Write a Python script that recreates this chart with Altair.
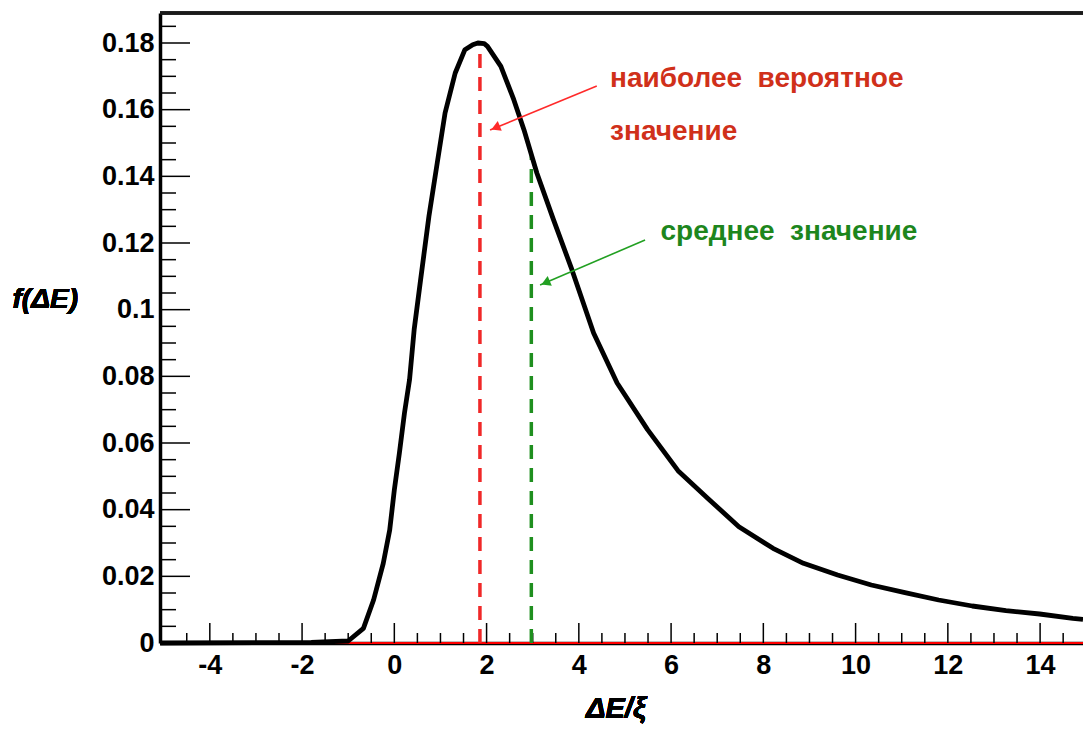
import altair as alt
import pandas as pd

# ---- data ----
curve_x = [-5.08, -1.8, -1.0, -0.67, -0.45, -0.24, -0.10, 0.0, 0.11, 0.22, 0.33, 0.43, 0.57, 0.75,
           0.93, 1.10, 1.32, 1.53, 1.70, 1.81, 1.95, 2.02, 2.31, 2.59, 2.81, 3.09, 3.45, 3.85, 4.32,
           4.83, 5.49, 6.15, 6.81, 7.47, 8.21, 8.87, 9.61, 10.34, 11.07, 11.80, 12.53, 13.26,
           13.99, 14.71, 14.93]
curve_y = [0.0, 0.0002, 0.0006, 0.0044, 0.0129, 0.0239, 0.0339, 0.0459, 0.057, 0.069, 0.079, 0.094,
           0.109, 0.128, 0.144, 0.159, 0.171, 0.178, 0.1795, 0.180, 0.1798, 0.179, 0.173, 0.163,
           0.154, 0.141, 0.127, 0.112, 0.093, 0.078, 0.064, 0.0517, 0.0432, 0.0349, 0.0284,
           0.0239, 0.0204, 0.0174, 0.0151, 0.0129, 0.0111, 0.0097, 0.0087, 0.0074, 0.0071]

mode_x, mode_y = 1.856, 0.180
mean_x, mean_y = 2.97, 0.146

x_major = [-4, -2, 0, 2, 4, 6, 8, 10, 12, 14]
y_major = [0, 0.02, 0.04, 0.06, 0.08, 0.10, 0.12, 0.14, 0.16, 0.18]
x_minor = [v / 2 for v in range(-9, 30) if v % 4 != 0]
y_minor = [round(v * 0.005, 4) for v in range(1, 38) if v % 4 != 0]

NB = "\u00a0"
labels_text = ["наиболее" + NB + NB + "вероятное", "значение", "среднее" + NB + NB + "значение"]
labels_x = [4.677, 4.677, 5.77]
labels_y = [0.1669, 0.1509, 0.1209]
labels_color = ["#d0301a", "#d0301a", "#1d861d"]

arrow_x1 = [4.389, 5.436]
arrow_y1 = [0.1671, 0.1209]
arrow_x2 = [2.076, 3.16]
arrow_y2 = [0.1539, 0.1074]
head_x = [2.195, 3.279]
head_y = [0.1546, 0.1081]
head_angle = [247.6, 246.8]
arrow_color = ["#ff2a2a", "#22a022"]

X_DOMAIN = [-5.08, 14.93]
Y_DOMAIN = [0, 0.189]
W, H = 923, 630
FONT = "Liberation Sans"

xs = alt.Scale(domain=X_DOMAIN, nice=False, zero=False)
ys = alt.Scale(domain=Y_DOMAIN, nice=False, zero=False)

curve_df = pd.DataFrame({"x": curve_x, "y": curve_y})
xmaj_df = pd.DataFrame({"x": x_major})
xmin_df = pd.DataFrame({"x": x_minor})
ymaj_df = pd.DataFrame({"y": y_major})
ymin_df = pd.DataFrame({"y": y_minor})
lab_df = pd.DataFrame({"t": labels_text, "x": labels_x, "y": labels_y, "c": labels_color})
arr_df = pd.DataFrame({"x": arrow_x1, "y": arrow_y1, "x2": arrow_x2, "y2": arrow_y2, "c": arrow_color})
head_df = pd.DataFrame({"x": head_x, "y": head_y, "a": head_angle, "c": arrow_color})
mode_df = pd.DataFrame({"x": [mode_x], "y": [mode_y], "y0": [0.0]})
mean_df = pd.DataFrame({"x": [mean_x], "y": [mean_y], "y0": [0.0]})

x_axis = alt.Axis(values=x_major, labelExpr="datum.value < 0 ? '-' + abs(datum.value) : '' + datum.value",
                  labelFont=FONT, labelFontSize=27, labelFontWeight="bold", labelColor="black",
                  labelPadding=9, ticks=False, tickSize=0, grid=False, title=None,
                  domainColor="black", domainWidth=3.5)
y_axis = alt.Axis(values=y_major, format=".2~f",
                  labelFont=FONT, labelFontSize=27, labelFontWeight="bold", labelColor="black",
                  labelPadding=6, ticks=False, tickSize=0, grid=False, title=None,
                  domainColor="black", domainWidth=3.5)

base = alt.Chart(curve_df).mark_line(color="black", strokeWidth=0).encode(
    x=alt.X("x:Q", scale=xs, axis=x_axis),
    y=alt.Y("y:Q", scale=ys, axis=y_axis),
)

zero_line = alt.Chart(xmaj_df).mark_rule(color="#ff0000", strokeWidth=2).encode(
    x=alt.value(0), x2=alt.value(W), y=alt.value(H))

top_line = alt.Chart(xmaj_df).mark_rule(color="#1a1a1a", strokeWidth=2.5).encode(
    x=alt.value(0), x2=alt.value(W), y=alt.value(0))

xmaj_ticks = alt.Chart(xmaj_df).mark_rule(color="black", strokeWidth=1.5).encode(
    x=alt.X("x:Q", scale=xs), y=alt.value(H), y2=alt.value(H - 20))
xmin_ticks = alt.Chart(xmin_df).mark_rule(color="black", strokeWidth=1.5).encode(
    x=alt.X("x:Q", scale=xs), y=alt.value(H), y2=alt.value(H - 10))
ymaj_ticks = alt.Chart(ymaj_df).mark_rule(color="black", strokeWidth=1.5).encode(
    y=alt.Y("y:Q", scale=ys), x=alt.value(0), x2=alt.value(30))
ymin_ticks = alt.Chart(ymin_df).mark_rule(color="black", strokeWidth=1.5).encode(
    y=alt.Y("y:Q", scale=ys), x=alt.value(0), x2=alt.value(16))

mode_line = alt.Chart(mode_df).mark_rule(color="#f02828", strokeWidth=3.5, strokeDash=[14, 9]).encode(
    x=alt.X("x:Q", scale=xs), y=alt.Y("y0:Q", scale=ys), y2="y:Q")
mean_line = alt.Chart(mean_df).mark_rule(color="#1f8f1f", strokeWidth=3.5, strokeDash=[14, 9]).encode(
    x=alt.X("x:Q", scale=xs), y=alt.Y("y0:Q", scale=ys), y2="y:Q")

curve = alt.Chart(curve_df).mark_line(color="black", strokeWidth=4.8, strokeJoin="round").encode(
    x=alt.X("x:Q", scale=xs), y=alt.Y("y:Q", scale=ys))

arrows = alt.Chart(arr_df).mark_rule(strokeWidth=1.6).encode(
    x=alt.X("x:Q", scale=xs), y=alt.Y("y:Q", scale=ys), x2="x2:Q", y2="y2:Q",
    color=alt.Color("c:N", scale=None))
heads = alt.Chart(head_df).mark_point(shape="triangle-up", filled=True, size=110, opacity=1).encode(
    x=alt.X("x:Q", scale=xs), y=alt.Y("y:Q", scale=ys), angle=alt.Angle("a:Q", scale=None),
    color=alt.Color("c:N", scale=None))

texts = alt.Chart(lab_df).mark_text(font=FONT, fontSize=28, fontWeight="bold", align="left",
                                    baseline="alphabetic").encode(
    x=alt.X("x:Q", scale=xs), y=alt.Y("y:Q", scale=ys), text="t:N",
    color=alt.Color("c:N", scale=None))

x_title = alt.Chart(xmaj_df).mark_text(text="ΔE/ξ", font=FONT, fontSize=29, fontWeight="bold",
                                       fontStyle="italic", align="center", baseline="alphabetic").encode(
    x=alt.value(456), y=alt.value(705))
y_title = alt.Chart(xmaj_df).mark_text(text="f(ΔE)", font=FONT, fontSize=28, fontWeight="bold",
                                       fontStyle="italic", align="right", baseline="alphabetic").encode(
    x=alt.value(-82), y=alt.value(295))

chart = alt.layer(
    base, zero_line, top_line, xmaj_ticks, xmin_ticks, ymaj_ticks, ymin_ticks,
    mode_line, mean_line, curve, arrows, heads, texts, x_title, y_title,
).properties(
    width=W, height=H,
    autosize=alt.AutoSizeParams(type="none"),
    padding={"left": 152, "top": 5, "right": 0, "bottom": 85},
    background="white",
).configure_view(stroke=None)

chart.save("out.html", embed_options={"renderer": "svg", "actions": False})
